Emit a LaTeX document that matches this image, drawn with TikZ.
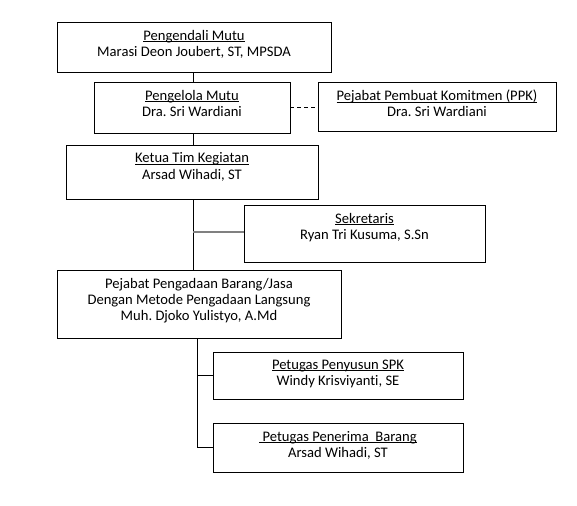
\documentclass[tikz,border=0pt]{standalone}
\usepackage{fontspec}
\setmainfont[Ligatures={NoCommon}]{Carlito}
\usetikzlibrary{backgrounds,calc}
\frenchspacing
\newcommand\myul[1]{\setbox0\hbox{#1}\rlap{\rule[-1.7pt]{\wd0}{0.65pt}}\box0}
\tikzset{
  box/.style={draw=black, line width=0.9pt, fill=white, inner sep=0pt, rectangle},
  txt/.style={anchor=north, inner sep=0pt, align=center, font=\fontsize{14.6}{16.2}\selectfont\frenchspacing, yshift=-8.2pt},
  link/.style={draw=black, line width=0.9pt},
  graylink/.style={draw=black!50, line width=2pt},
  dashlink/.style={draw=black, line width=0.9pt, dash pattern=on 4pt off 3pt},
}
\begin{document}
\begin{tikzpicture}[x=1pt,y=-1pt]
\useasboundingbox (0,0) rectangle (577,505);
% boxes
\node[box, minimum width=274pt, minimum height=50pt] (p1) at (194,47) {};
\node[box, minimum width=196pt, minimum height=51pt] (p2) at (192,107.5) {};
\node[box, minimum width=238pt, minimum height=49pt] (ppk) at (437,106.5) {};
\node[box, minimum width=252pt, minimum height=54pt] (kt) at (192,172) {};
\node[box, minimum width=241pt, minimum height=57pt] (sek) at (364.5,233.5) {};
\node[box, minimum width=284pt, minimum height=68pt] (pj) at (199,304) {};
\node[box, minimum width=250pt, minimum height=47pt] (spk) at (338,375.5) {};
\node[box, minimum width=250pt, minimum height=49pt] (pen) at (338,447.5) {};
% texts
\node[txt] (t1) at (p1.north) {\myul{Pengendali Mutu}\\Marasi Deon Joubert, ST, MPSDA};
\node[txt] (t2) at (p2.north) {\myul{Pengelola Mutu}\\Dra. Sri Wardiani};
\node[txt] (t3) at (ppk.north) {\myul{Pejabat Pembuat Komitmen (PPK)}\\Dra. Sri Wardiani};
\node[txt] (t4) at (kt.north) {\myul{Ketua Tim Kegiatan}\\Arsad Wihadi, ST};
\node[txt] (t5) at (sek.north) {\myul{Sekretaris}\\Ryan Tri Kusuma, S.Sn};
\node[txt] (t6) at (pj.north) {Pejabat Pengadaan Barang/Jasa\\Dengan Metode Pengadaan Langsung\\Muh. Djoko Yulistyo, A.Md};
\node[txt] (t7) at (spk.north) {\myul{Petugas Penyusun SPK}\\Windy Krisviyanti, SE};
\node[txt] (t8) at (pen.north) {\myul{\ Petugas Penerima\ \ Barang}\\Arsad Wihadi, ST};
% connectors
\coordinate (spine) at (193,0);
\coordinate (spine2) at (197,0);
\begin{scope}[on background layer]
\draw[link] (p1.south -| spine) -- (pj.north -| spine);
\draw[graylink] ($(sek.west)+(0,-2)$) -- ($(sek.west -| spine)+(0,-2)$);
\draw[link] (pj.south -| spine2) -- (pen.west -| spine2) -- (pen.west);
\draw[link] (spk.west -| spine2) -- (spk.west);
\end{scope}
\draw[dashlink] (p2.east) -- (p2.east -| ppk.west);
\end{tikzpicture}
\end{document}
